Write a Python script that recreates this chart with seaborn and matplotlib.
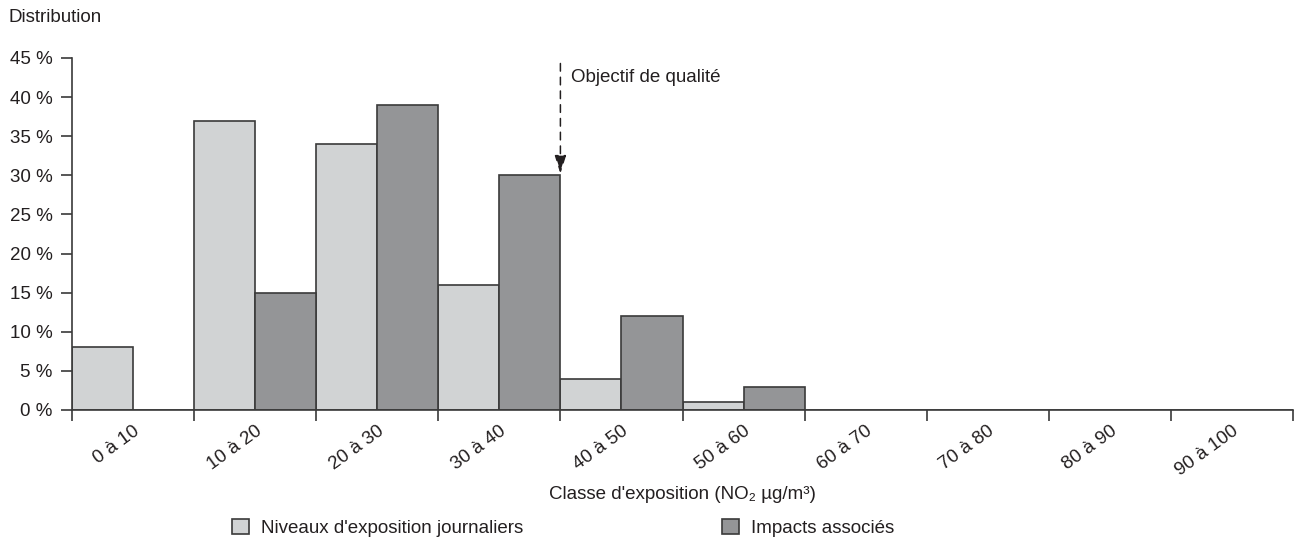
import pandas as pd
import numpy as np
import matplotlib
matplotlib.use('Agg')
import matplotlib.pyplot as plt
import matplotlib.transforms as mtransforms
import seaborn as sns

# Values (percent)
classes = ['0 à 10', '10 à 20', '20 à 30', '30 à 40', '40 à 50',
           '50 à 60', '60 à 70', '70 à 80', '80 à 90', '90 à 100']
niveaux = [8, 37, 34, 16, 4, 1, 0, 0, 0, 0]
impacts = [0, 15, 39, 30, 12, 3, 0, 0, 0, 0]
series_names = ["Niveaux d'exposition journaliers", 'Impacts associés']
y_ticks = [0, 5, 10, 15, 20, 25, 30, 35, 40, 45]
objectif_class = 4  # boundary "40" in class index units

sns.set_style('ticks')
plt.rcParams['font.family'] = ['Liberation Sans Narrow', 'Liberation Sans', 'DejaVu Sans']
text_col = '#231f20'

df = pd.DataFrame({
    'classe': classes * 2,
    'valeur': niveaux + impacts,
    'serie': [series_names[0]] * len(classes) + [series_names[1]] * len(classes),
})

fig = plt.figure(figsize=(12.94, 5.41), dpi=100)
ax = fig.add_axes([72 / 1294, 131 / 541, 1221 / 1294, 352 / 541])

sns.barplot(data=df, x='classe', y='valeur', hue='serie', order=classes,
            palette=['#d1d3d4', '#939598'], width=1.0, gap=0,
            edgecolor='#3a3a3a', linewidth=1.2, ax=ax)

sns.despine(ax=ax)
for s in ['left', 'bottom']:
    ax.spines[s].set_color('#3a3a3a')
    ax.spines[s].set_linewidth(1.2)

ax.set_xlim(-0.5, len(classes) - 0.5)
ax.set_ylim(0, 45)
ax.set_yticks(y_ticks)
ax.set_yticklabels([f'{v} %' for v in y_ticks], fontsize=13.5, color=text_col)

# ticks at class boundaries, labels at class centres
ax.set_xticks(np.arange(len(classes) + 1) - 0.5)
ax.set_xticklabels([])
ax.set_xticks(np.arange(len(classes)), minor=True)
ax.set_xticklabels(classes, minor=True, rotation=36, ha='right',
                   rotation_mode='anchor', fontsize=13.5, color=text_col)
shift = mtransforms.ScaledTranslation(6 / 100, 0, fig.dpi_scale_trans)
for lab in ax.get_xticklabels(minor=True):
    lab.set_transform(lab.get_transform() + shift)
ax.tick_params(axis='x', which='minor', length=0, pad=9)
ax.tick_params(axis='x', which='major', length=8, width=1.2, color='#3a3a3a')
ax.tick_params(axis='y', length=8, width=1.2, color='#3a3a3a', pad=6)

ax.set_ylabel('')
ax.set_xlabel("Classe d'exposition (NO₂ µg/m³)", fontsize=13.5, color=text_col, labelpad=5)

# quality objective arrow
xo = objectif_class - 0.5
ax.annotate('', xy=(xo, 30.2), xytext=(xo, 44.3),
            arrowprops=dict(arrowstyle='-|>,head_length=0.8,head_width=0.25',
                            linestyle=(0, (5, 4)), color=text_col,
                            lw=1.1, mutation_scale=14, shrinkA=0, shrinkB=0))
ax.text(xo + 0.09, 42.5, 'Objectif de qualité', fontsize=13.5, color=text_col,
        ha='left', va='center')

fig.text(8 / 1294, 1 - 18 / 541, 'Distribution', fontsize=13.5, color=text_col,
         ha='left', va='center')

ax.legend(loc='center', bbox_to_anchor=(0.4025, -0.335), ncol=2, frameon=False,
          fontsize=13.5, handlelength=0.9, handleheight=0.9, handletextpad=0.65,
          columnspacing=10.6, labelcolor=text_col)

fig.savefig('out.png', dpi=100)
